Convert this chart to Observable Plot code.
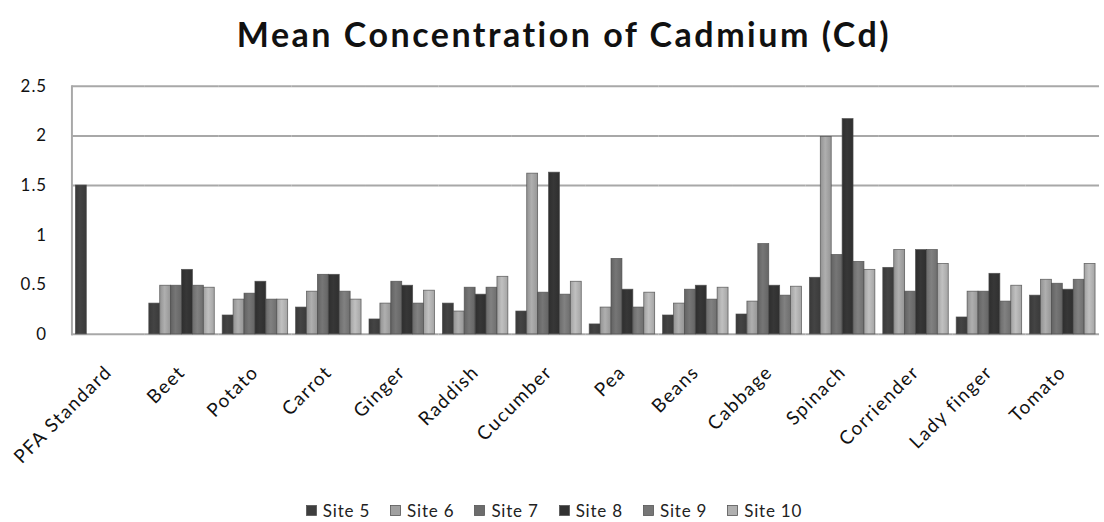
<!DOCTYPE html>
<html>
<head>
<meta charset="utf-8">
<script src="https://cdn.jsdelivr.net/npm/d3@7"></script>
<script src="https://cdn.jsdelivr.net/npm/@observablehq/plot@0.6"></script>
<style>
  html, body { margin: 0; padding: 0; background: #fff; overflow: hidden; width: 1104px; height: 522px; }
  #title { height: 70px; text-align: center; font-family: Lato, "Open Sans", sans-serif; font-weight: bold;
           font-size: 34px; letter-spacing: 2.5px; line-height: 70px; color: #111; padding-left: 24px; box-sizing: border-box; }
  #title span { position: relative; top: -1px; }
  #chart svg { display: block; }
  #chart [aria-label="fx-axis tick label"] { font-size: 19px; letter-spacing: 1.5px; }
  #chart [aria-label="y-axis tick label"] { font-size: 17px; letter-spacing: 1px; }
  #legend { height: 32px; display: flex; justify-content: center; align-items: center; gap: 20px;
            font-family: Lato, "Open Sans", sans-serif; font-size: 17px; letter-spacing: 0.8px; color: #222; padding-top: 16px; box-sizing: border-box; padding-left: 4px; }
  #legend .item { display: flex; align-items: center; gap: 6px; }
</style>
</head>
<body>
<svg width="0" height="0" style="position:absolute"><defs id="gradients"></defs></svg>
<div id="title"><span>Mean Concentration of Cadmium (Cd)</span></div>
<div id="chart"></div>
<div id="legend"></div>
<script>
const categories = ["PFA Standard","Beet","Potato","Carrot","Ginger","Raddish","Cucumber","Pea","Beans","Cabbage","Spinach","Corriender","Lady finger","Tomato"];
const sites = ["Site 5","Site 6","Site 7","Site 8","Site 9","Site 10"];
const site5  = [1.50, 0.31, 0.19, 0.27, 0.15, 0.31, 0.23, 0.10, 0.19, 0.20, 0.57, 0.67, 0.17, 0.39];
const site6  = [null, 0.49, 0.35, 0.43, 0.31, 0.23, 1.62, 0.27, 0.31, 0.33, 1.99, 0.85, 0.43, 0.55];
const site7  = [null, 0.49, 0.41, 0.60, 0.53, 0.47, 0.42, 0.76, 0.45, 0.91, 0.80, 0.43, 0.43, 0.51];
const site8  = [null, 0.65, 0.53, 0.60, 0.49, 0.40, 1.63, 0.45, 0.49, 0.49, 2.17, 0.85, 0.61, 0.45];
const site9  = [null, 0.49, 0.35, 0.43, 0.31, 0.47, 0.40, 0.27, 0.35, 0.39, 0.73, 0.85, 0.33, 0.55];
const site10 = [null, 0.47, 0.35, 0.35, 0.44, 0.58, 0.53, 0.42, 0.47, 0.48, 0.65, 0.71, 0.49, 0.71];
const yTicks = [0, 0.5, 1, 1.5, 2, 2.5];
const gridValues = [0, 1.5, 2, 2.5];
const siteColors = ["#3e3e3e", "#a0a0a0", "#6c6c6c", "#323232", "#767676", "#b0b0b0"];

const series = [site5, site6, site7, site8, site9, site10];
const data = [];
categories.forEach((c, i) => sites.forEach((s, j) => {
  const v = series[j][i];
  if (v != null) data.push({category: c, site: s, value: v});
}));

// gradients for the shaded bar look
const defs = document.getElementById("gradients");
const ns = "http://www.w3.org/2000/svg";
siteColors.forEach((c, j) => {
  const g = document.createElementNS(ns, "linearGradient");
  g.setAttribute("id", "g" + j);
  g.setAttribute("x1", "0"); g.setAttribute("x2", "1"); g.setAttribute("y1", "0"); g.setAttribute("y2", "0");
  const base = d3.color(c);
  [[0, base.darker(0.25)], [0.45, base.brighter(0.25)], [1, base.darker(0.2)]].forEach(([o, col]) => {
    const st = document.createElementNS(ns, "stop");
    st.setAttribute("offset", o);
    st.setAttribute("stop-color", col.formatHex());
    g.appendChild(st);
  });
  defs.appendChild(g);
});
const fills = siteColors.map((c, j) => `url(#g${j})`);

const chart = Plot.plot({
  width: 1113,
  height: 420,
  marginTop: 16,
  marginBottom: 154,
  marginLeft: 67,
  marginRight: 0,
  style: {fontFamily: "Lato, 'Open Sans', sans-serif", fontSize: "15px", color: "#111", background: "white", overflow: "visible"},
  fx: {domain: categories, padding: 0, label: null, axis: "bottom", tickRotate: -45, tickSize: 0, tickPadding: 35},
  x: {domain: sites, paddingInner: 0, paddingOuter: 0.3, axis: null},
  y: {domain: [0, 2.5], ticks: yTicks, tickFormat: d => String(d), label: null, tickSize: 0, tickPadding: 25},
  color: {domain: sites, range: fills},
  marks: [
    Plot.ruleY(gridValues, {stroke: "#a8a8a8", strokeWidth: 2}),
    Plot.barY(data, {fx: "category", x: "site", y: "value", fill: "site", stroke: "#4a4a4a", strokeWidth: 0.8, strokeOpacity: 0.8}),
    Plot.frame({anchor: "left", fx: [categories[0]], stroke: "#a8a8a8", strokeWidth: 2})
  ]
});
document.getElementById("chart").appendChild(chart);

const legend = document.getElementById("legend");
sites.forEach((s, j) => {
  const item = document.createElement("div");
  item.className = "item";
  item.innerHTML = `<svg width="11" height="11"><rect x="0.5" y="0.5" width="10" height="10" fill="${siteColors[j]}" stroke="#555" stroke-width="0.8"/></svg><span>${s}</span>`;
  legend.appendChild(item);
});
</script>
</body>
</html>
